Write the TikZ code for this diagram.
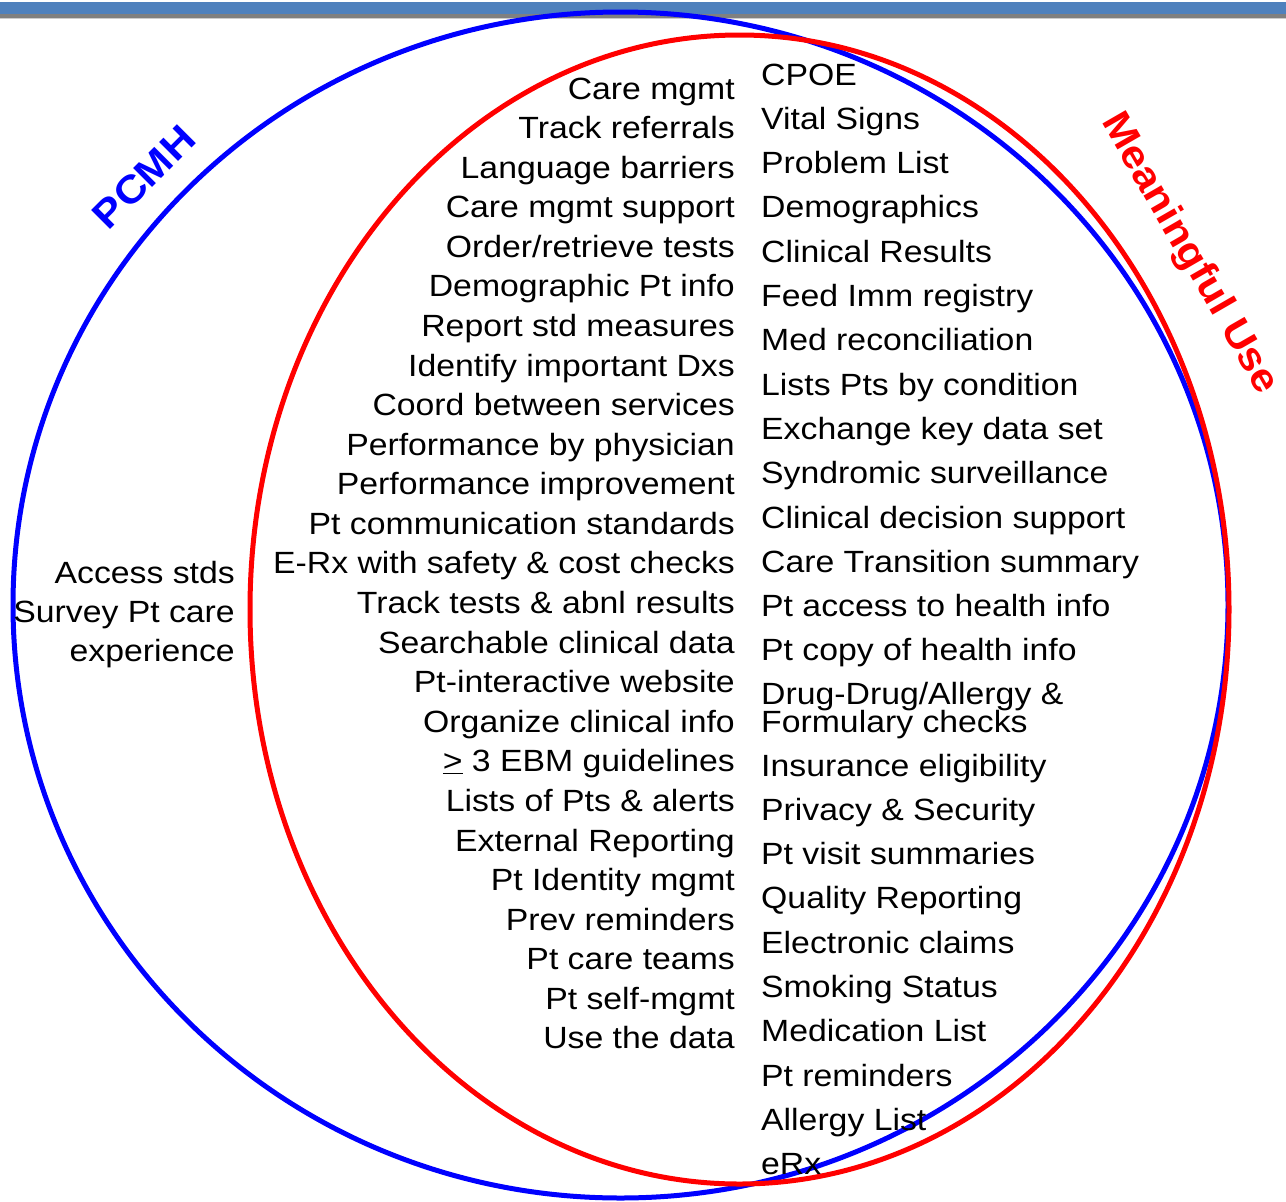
\documentclass[tikz,border=0pt]{standalone}
\usepackage{fontspec}
\usepackage{xcolor}
\newfontfamily\slidefont[FakeStretch=1.1]{Liberation Sans}
\definecolor{barblue}{RGB}{79,129,189}
\definecolor{pcmhblue}{RGB}{0,0,255}
\definecolor{mured}{RGB}{255,0,0}

\begin{document}
\begin{tikzpicture}[x=1pt,y=-1pt,
    item/.style={inner sep=0pt,font=\slidefont\fontsize{30.7}{36}\selectfont},
    lefttext/.style={item,anchor=base east},
    righttext/.style={item,anchor=base west},
    setlabel/.style={inner sep=0pt,font=\slidefont\bfseries\fontsize{39}{44}\selectfont}]
\useasboundingbox (0,0) rectangle (1286,1202);
\fill[barblue] (0,1.5) rectangle (1286,13.5);
\fill[gray] (0,13.5) rectangle (1286,17.5);
\draw[black!20] (0,18.5) -- (1286,18.5);
\draw[pcmhblue,line width=5pt] (620.5,605) ellipse [x radius=607.5pt,y radius=593pt];
\draw[mured,line width=5pt] (739.5,609.5) ellipse [x radius=489.5pt,y radius=574.5pt];
\node[setlabel,text=pcmhblue,rotate=45] (pcmhlabel) at (144,177) {PCMH};
\node[setlabel,text=mured,rotate=-60] (mulabel) at (1189,254) {Meaningful Use};
\node[lefttext] (pcmh1) at (235,583) {Access stds};
\node[lefttext] (pcmh2) at (235,622) {Survey Pt care};
\node[lefttext] (pcmh3) at (235,661) {experience};
\foreach \txt [count=\i] in {Care mgmt, Track referrals, Language barriers, Care mgmt support,
    Order/retrieve tests, Demographic Pt info, Report std measures, Identify important Dxs,
    Coord between services, Performance by physician, Performance improvement,
    Pt communication standards, E-Rx with safety \& cost checks, Track tests \& abnl results,
    Searchable clinical data, Pt-interactive website, Organize clinical info,
    {\underline{>} 3 EBM guidelines}, Lists of Pts \& alerts, External Reporting,
    Pt Identity mgmt, Prev reminders, Pt care teams, Pt self-mgmt, Use the data}
    \node[lefttext] (both\i) at (735,{99+39.58*(\i-1)}) {\txt};
\foreach \txt [count=\i] in {CPOE, Vital Signs, Problem List, Demographics, Clinical Results,
    Feed Imm registry, Med reconciliation, Lists Pts by condition, Exchange key data set,
    Syndromic surveillance, Clinical decision support, Care Transition summary,
    Pt access to health info, Pt copy of health info}
    \node[righttext] (mu\i) at (761,{85+44.3*(\i-1)}) {\txt};
\node[righttext] (drug1) at (761,704) {Drug-Drug/Allergy \&};
\node[righttext] (drug2) at (761,732) {Formulary checks};
\foreach \txt [count=\i] in {Insurance eligibility, Privacy \& Security, Pt visit summaries,
    Quality Reporting, Electronic claims, Smoking Status, Medication List, Pt reminders,
    Allergy List, eRx}
    \node[righttext] (mulow\i) at (761,{776+44.3*(\i-1)}) {\txt};
\end{tikzpicture}
\end{document}
